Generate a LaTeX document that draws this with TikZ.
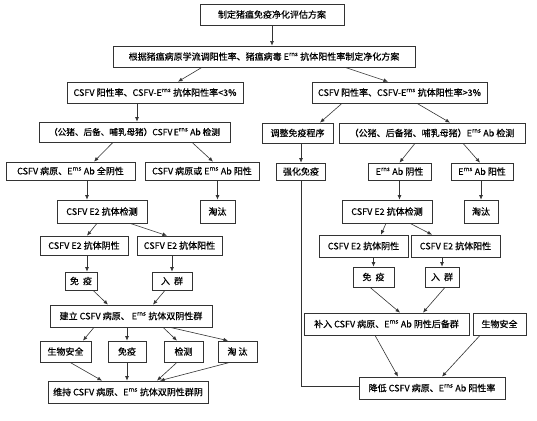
\documentclass[tikz,border=0pt]{standalone}
\usepackage{fontspec}
\setmainfont{Noto Sans CJK SC}[FakeBold=0.35]
\usetikzlibrary{arrows.meta}
\newcommand{\Ern}{E\textsuperscript{rns}}

\begin{document}
\begin{tikzpicture}[x=1pt, y=-1pt, font=\fontsize{9}{10}\selectfont,
  blk/.style={draw=black!80, line width=0.7pt, fill=white, inner sep=0pt, minimum height=21pt},
  arr/.style={-{Latex[length=4.5pt,width=3.8pt]}, line width=0.6pt, black!80},
  ln/.style={line width=0.6pt, black!80}]
\useasboundingbox (0,0) rectangle (537,420);
% top of the scheme
\node[blk, minimum width=144pt] (top) at (272,14.5) {制定猪瘟免疫净化评估方案};
\node[blk, minimum width=302pt] (plan) at (264,56.5) {根据猪瘟病原学流调阳性率、猪瘟病毒 \Ern\ 抗体阳性率制定净化方案};
\node[blk, minimum width=176pt] (lo) at (155,92.5) {CSFV 阳性率、CSFV-\Ern\ 抗体阳性率<3\%};
\node[blk, minimum width=175pt] (hi) at (399.5,92.5) {CSFV 阳性率、CSFV-\Ern\ 抗体阳性率>3\%};
% left branch
\node[blk, minimum width=191pt, minimum height=20pt, font=\fontsize{8.6}{10}\selectfont] (detL) at (134.5,132) {（公猪、后备、哺乳母猪）CSFV\,\Ern\ Ab 检测};
\node[blk, minimum width=129pt, minimum height=18pt] (negL) at (70.5,171) {CSFV 病原、\Ern\ Ab 全阴性};
\node[blk, minimum width=114pt, minimum height=18pt] (posL) at (202,171) {CSFV 病原或 \Ern\ Ab 阳性};
\node[blk, minimum width=90pt, minimum height=23pt] (e2L) at (102,211.5) {CSFV E2 抗体检测};
\node[blk, minimum width=35pt, minimum height=23pt] (cullL) at (217.5,211.5) {淘汰};
\node[blk, minimum width=88pt, minimum height=19pt] (e2negL) at (84,245.5) {CSFV E2 抗体阴性};
\node[blk, minimum width=85pt, minimum height=19pt] (e2posL) at (179.5,245.5) {CSFV E2 抗体阳性};
\node[blk, minimum width=32pt, minimum height=18pt] (vacL) at (81,281) {免\ \ 疫};
\node[blk, minimum width=40pt, minimum height=18pt] (joinL) at (172,281) {入\ \ 群};
\node[blk, minimum width=162pt, minimum height=22pt] (build) at (131,316) {建立 CSFV 病原、\ \Ern\ 抗体双阴性群};
\node[blk, minimum width=51pt] (bioL) at (65.5,351.5) {生物安全};
\node[blk, minimum width=38pt] (vacB) at (127,351.5) {免疫};
\node[blk, minimum width=39pt] (test) at (183.5,351.5) {检测};
\node[blk, minimum width=39pt] (cullB) at (237.5,351.5) {淘\ 汰};
\node[blk, minimum width=160pt, minimum height=22pt] (keep) at (128,392) {维持 CSFV 病原、\Ern\ 抗体双阴性群阴};
% right branch
\node[blk, minimum width=71pt, minimum height=20pt] (adj) at (297.5,133) {调整免疫程序};
\node[blk, minimum width=186pt, minimum height=20pt] (detR) at (432,133) {（公猪、后备猪、哺乳母猪）\Ern\ Ab 检测};
\node[blk, minimum width=49pt, minimum height=17pt] (boost) at (301,171.5) {强化免疫};
\node[blk, minimum width=63pt, minimum height=17pt] (negR) at (399.5,171.5) {\Ern\ Ab 阴性};
\node[blk, minimum width=62pt, minimum height=17pt] (posR) at (482,171.5) {\Ern\ Ab 阳性};
\node[blk, minimum width=90pt, minimum height=23pt] (e2R) at (387,211.5) {CSFV E2 抗体检测};
\node[blk, minimum width=34pt, minimum height=23pt] (cullR) at (481,211.5) {淘汰};
\node[blk, minimum width=89pt, minimum height=22pt] (e2negR) at (363.5,246) {CSFV E2 抗体阴性};
\node[blk, minimum width=89pt, minimum height=22pt] (e2posR) at (455.5,246) {CSFV E2 抗体阳性};
\node[blk, minimum width=41pt, minimum height=20pt] (vacR) at (373.5,277) {免\ \ 疫};
\node[blk, minimum width=34pt, minimum height=20pt] (joinR) at (442,277) {入\ \ 群};
\node[blk, minimum width=165pt, minimum height=22pt] (fill) at (386.5,324) {补入 CSFV 病原、\Ern\ Ab 阴性后备群};
\node[blk, minimum width=53pt, minimum height=22pt] (bioR) at (499.5,324) {生物安全};
\node[blk, minimum width=146pt, minimum height=22pt] (lower) at (432,388) {降低 CSFV 病原、\Ern\ Ab 阳性率};
% connectors
\draw[arr] (top.south) -- (top.south |- plan.north);
\draw[arr] ([xshift=-62pt]plan.south) -- ([xshift=23pt]lo.north);
\draw[arr] ([xshift=81pt]plan.south) -- ([xshift=-11.5pt]hi.north);
\draw[arr] ([xshift=-18pt]lo.south) -- ([xshift=-18pt]lo.south |- detL.north);
\draw[arr] ([xshift=-21.5pt]detL.south) -- ([xshift=23.5pt]negL.north);
\draw[arr] ([xshift=57.5pt]detL.south) -- ([xshift=11pt]posL.north);
\draw[arr] ([xshift=16.5pt]negL.south) -- ([xshift=16.5pt]negL.south |- e2L.north);
\draw[arr] (cullL.north |- posL.south) -- (cullL.north);
\draw[arr] ([xshift=-5pt]e2L.south) -- ([xshift=3pt]e2negL.north);
\draw[arr] ([xshift=28pt]e2L.south) -- ([xshift=-12.5pt]e2posL.north);
\draw[arr] ([xshift=3pt]e2negL.south) -- ([xshift=3pt]e2negL.south |- vacL.north);
\draw[arr] (joinL.north |- e2posL.south) -- (joinL.north);
\draw[arr] ([xshift=12pt]vacL.south) -- ([xshift=-23pt]build.north);
\draw[arr] ([xshift=-7pt]joinL.south) -- ([xshift=22pt]build.north);
\draw[arr] ([xshift=-37pt]build.south) -- ([xshift=17.5pt]bioL.north);
\draw[arr] (vacB.north |- build.south) -- (vacB.north);
\draw[arr] ([xshift=32pt]build.south) -- ([xshift=-6.5pt]test.north);
\draw[arr] ([xshift=39pt]build.south) -- ([xshift=-9.5pt]cullB.north);
\draw[arr] ([xshift=4.5pt]bioL.south) -- ([xshift=-26pt]keep.north);
\draw[arr] (vacB.south) -- (vacB.south |- keep.north);
\draw[arr] ([xshift=-6.5pt]test.south) -- ([xshift=29pt]keep.north);
\draw[arr] ([xshift=-7.5pt]cullB.south) -- ([xshift=32pt]keep.north);
\draw[arr] ([xshift=-57.5pt]hi.south) -- ([xshift=22.5pt]adj.north);
\draw[arr] ([xshift=17.5pt]hi.south) -- ([xshift=18pt]detR.north);
\draw[arr] (boost.north |- adj.south) -- (boost.north);
\draw[arr] ([xshift=-17pt]detR.south) -- (negR.north);
\draw[arr] ([xshift=31pt]detR.south) -- ([xshift=-2pt]posR.north);
\draw[arr] (negR.south) -- (negR.south |- e2R.north);
\draw[arr] (cullR.north |- posR.south) -- (cullR.north);
\draw[arr] ([xshift=-1pt]e2R.south) -- ([xshift=17.5pt]e2negR.north);
\draw[arr] ([xshift=23pt]e2R.south) -- ([xshift=-23.5pt]e2posR.north);
\draw[arr] (vacR.north |- e2negR.south) -- (vacR.north);
\draw[arr] (joinR.north |- e2posR.south) -- (joinR.north);
\draw[arr] ([xshift=-3.5pt]vacR.south) -- ([xshift=13.5pt]fill.north);
\draw[arr] ([xshift=3pt]joinR.south) -- ([xshift=36.5pt]fill.north);
\draw[arr] ([xshift=-11.5pt]fill.south) -- ([xshift=-34pt]lower.north);
\draw[arr] ([xshift=-19.5pt]bioR.south) -- ([xshift=10pt]lower.north);
\draw[ln] (boost.south) |- ([yshift=2pt]lower.west);
\end{tikzpicture}
\end{document}
